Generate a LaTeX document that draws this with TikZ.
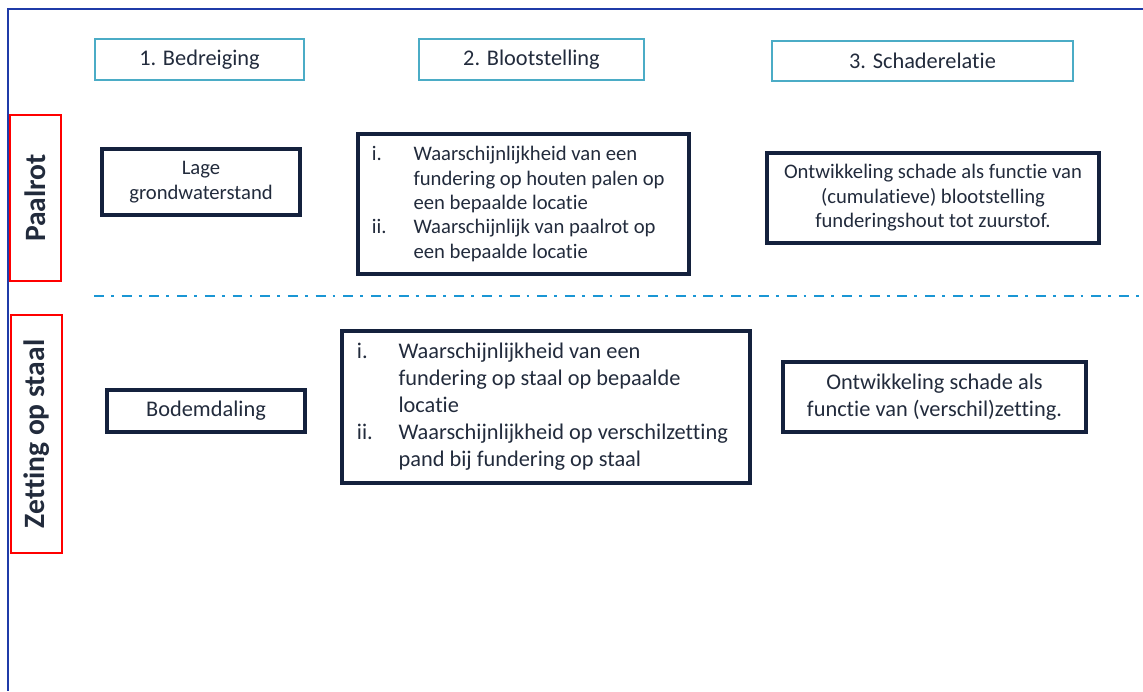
\documentclass[tikz,border=0pt]{standalone}
\usepackage{fontspec}
\setmainfont{Carlito}[Ligatures=NoCommon, RawFeature={-liga;-dlig;-clig}]

\definecolor{framblue}{HTML}{1F3BA8}
\definecolor{hdrblue}{HTML}{4BACC6}
\definecolor{lblred}{HTML}{FF0000}
\definecolor{boxnavy}{HTML}{14213D}
\definecolor{txtnavy}{HTML}{222B3C}
\definecolor{sepblue}{HTML}{1A96D4}

\tikzset{pxsize/.style 2 args={minimum width=#1*0.025cm, minimum height=#2*0.025cm}}

\newcommand{\itm}[1]{\makebox[1.04cm][l]{#1}}
\newcommand{\ind}{\hspace*{1.04cm}}

\begin{document}
\begin{tikzpicture}[x=0.025cm, y=-0.025cm]
    \tikzstyle{hdr}=[draw=hdrblue, line width=1pt, text=txtnavy, inner sep=0pt, font=\fontsize{15.9}{19}\selectfont]
    \tikzstyle{lbl}=[draw=lblred, line width=1.3pt, text=txtnavy, inner sep=0pt, rotate=90, font=\fontsize{21}{25}\bfseries\selectfont]
    \tikzstyle{fact}=[draw=boxnavy, line width=2.2pt, text=txtnavy, inner sep=0pt, align=center]
    \tikzstyle{rowa}=[font=\fontsize{14.7}{17.4}\selectfont]
    \tikzstyle{rowb}=[font=\fontsize{15.9}{19.2}\selectfont]

    \useasboundingbox (0, 0) rectangle (1143, 691);

    % frame
    \coordinate (frTR) at (1143, 9);
    \coordinate (frTL) at (8, 9);
    \coordinate (frBL) at (8, 691);
    \draw[framblue, line width=1.4pt] (frTR) -- (frTL) -- (frBL);

    % column headers
    \foreach \nm/\cx/\cy/\w/\h/\txt in {bedr/199.5/59.5/209/41/{1. Bedreiging},
                                        bloot/531.5/59.5/225/41/{2. Blootstelling},
                                        schade/922.5/61/301/40/{3. Schaderelatie}} {
        \node[hdr, pxsize={\w}{\h}] (\nm) at (\cx, \cy) {\txt};
    }

    % row labels
    \node[lbl, pxsize={166}{51}] (paalrot) at (35.5, 198) {Paalrot};
    \node[lbl, pxsize={238}{51}] (zetting) at (36.5, 434) {Zetting op staal};

    % row 1
    \node[fact, rowa, pxsize={198}{66}] (lage) at (201, 182) {Lage\\grondwaterstand};
    \node[fact, rowa, pxsize={331}{140}, text width=7.575cm, align=flush left] (blootA) at (523.5, 204)
        {\itm{i.}Waarschijnlijkheid van een\\
         \ind fundering op houten palen op\\
         \ind een bepaalde locatie\\
         \itm{ii.}Waarschijnlijk van paalrot op\\
         \ind een bepaalde locatie};
    \node[fact, rowa, pxsize={332}{90}] (schadeA) at (933, 198)
        {Ontwikkeling schade als functie van\\(cumulatieve) blootstelling\\funderingshout tot zuurstof.};

    % separator
    \coordinate (sepL) at (94, 296);
    \coordinate (sepR) at (1143, 296);
    \draw[sepblue, line width=2pt, dash pattern=on 7.1pt off 5pt on 2pt off 5.6pt] (sepL) -- (sepR);

    % row 2
    \node[fact, rowb, pxsize={198}{42}] (bodem) at (206, 411) {Bodemdaling};
    \node[fact, rowb, pxsize={408}{152}, text width=9.45cm, align=flush left] (blootB) at (546, 407)
        {\itm{i.}Waarschijnlijkheid van een\\
         \ind fundering op staal op bepaalde\\
         \ind locatie\\
         \itm{ii.}Waarschijnlijkheid op verschilzetting\\
         \ind pand bij fundering op staal};
    \node[fact, rowb, pxsize={303}{70}] (schadeB) at (934.5, 397)
        {Ontwikkeling schade als\\functie van (verschil)zetting.};

\end{tikzpicture}
\end{document}
